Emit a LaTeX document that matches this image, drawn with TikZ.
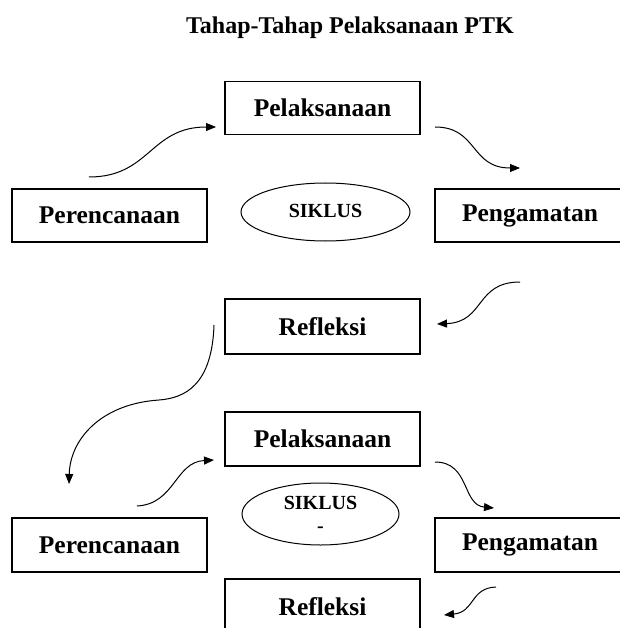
\documentclass[tikz,border=0pt]{standalone}
\usepackage{fontspec}
\setmainfont{Liberation Serif}
\usetikzlibrary{arrows.meta,shapes.geometric}
\begin{document}
\begin{tikzpicture}[x=1bp,y=-1bp,
  stagebox/.style={draw,line width=1.1bp,rectangle,inner sep=0pt,minimum width=195bp,minimum height=53bp,font=\fontsize{25.5bp}{30bp}\selectfont\bfseries},
  cyclenode/.style={draw,ellipse,line width=1bp,inner sep=0pt,align=center,font=\fontsize{20bp}{23bp}\selectfont\bfseries},
  titletext/.style={font=\fontsize{24bp}{28bp}\selectfont\bfseries},
  flow/.style={line width=1bp,-{Triangle[length=10bp,width=8bp]}}]
\useasboundingbox (0,0) rectangle (620,628);
\begin{scope}
\clip (0,0) rectangle (620,628);
\node[titletext] (title) at (350,28) {Tahap-Tahap Pelaksanaan PTK};
% cycle 1
\node[stagebox] (pel1) at (322.5,108) {Pelaksanaan};
\node[stagebox] (per1) at (109.5,215.5) {Perencanaan};
\node[cyclenode,minimum width=169bp,minimum height=58bp] (sik1) at (325.5,212) {\raisebox{3bp}{SIKLUS}};
\node[stagebox,minimum width=190bp] (pen1) at (530,215.5) {Pengamatan};
\node[stagebox,minimum height=55bp] (ref1) at (322.5,326.5) {Refleksi};
% cycle 2
\node[stagebox,minimum height=54bp] (pel2) at (322.5,439) {Pelaksanaan};
\node[cyclenode,minimum width=157bp,minimum height=62bp] (sik2) at (320.5,514) {SIKLUS\\-};
\node[stagebox,minimum height=54bp] (per2) at (109.5,545) {Perencanaan};
\node[stagebox,minimum width=190bp,minimum height=54bp] (pen2) at (530,545) {Pengamatan};
\node[stagebox,minimum height=61bp] (ref2) at (322.5,609.5) {\raisebox{6bp}{Refleksi}};
% arrow ends
\coordinate (a1) at (89,177);   \coordinate (a2) at (216,127);
\coordinate (b1) at (435,127);  \coordinate (b2) at (520,168);
\coordinate (c1) at (520,282);  \coordinate (c2) at (437,324);
\coordinate (d1) at (214,325);  \coordinate (dm) at (159,400); \coordinate (d2) at (69,484);
\coordinate (e1) at (137,506);  \coordinate (e2) at (214,460);
\coordinate (f1) at (435,462);  \coordinate (f2) at (494,508);
\coordinate (g1) at (496,587);  \coordinate (g2) at (444,615);
\draw[flow] (a1) .. controls (150,177) and (150,127) .. (a2);
\draw[flow] (b1) .. controls (478,127) and (470,168) .. (b2);
\draw[flow] (c1) .. controls (475,282) and (485,322) .. (c2);
\draw[flow] (d1) .. controls (212,385) and (185,398) .. (dm) .. controls (100,404) and (70,440) .. (d2);
\draw[flow] (e1) .. controls (175,504) and (175,462) .. (e2);
\draw[flow] (f1) .. controls (470,462) and (462,505) .. (f2);
\draw[flow] (g1) .. controls (470,588) and (475,612) .. (g2);
\end{scope}
\end{tikzpicture}
\end{document}
